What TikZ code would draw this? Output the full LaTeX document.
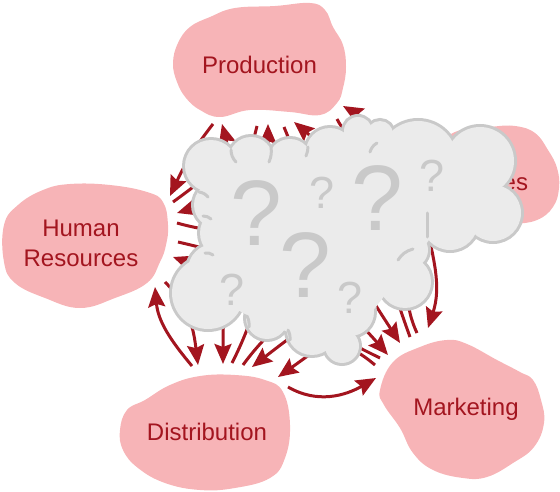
\documentclass[tikz,border=0pt]{standalone}
\usepackage{fontspec}
\setmainfont{Liberation Sans}
\usetikzlibrary{arrows.meta}

\definecolor{deptpink}{HTML}{F7B4B7}
\definecolor{deptred}{HTML}{A3151F}
\definecolor{fogfill}{HTML}{EBEBEB}
\definecolor{fogline}{HTML}{C9C9C9}

\tikzset{
  dept/.style={text=deptred,font=\fontsize{24}{30}\selectfont,inner sep=0pt},
  link/.style={deptred,line width=3pt,-{Stealth[length=20pt,width=17pt,inset=3pt]}},
  curl/.style={fogline,line width=3pt,line cap=round},
  bigq/.style={text=fogline,font=\fontsize{93}{93}\selectfont,inner sep=0pt,anchor=base},
  smallq/.style={bigq,font=\fontsize{45}{45}\selectfont},
}

\begin{document}
\begin{tikzpicture}[x=1pt,y=1pt]
\useasboundingbox (0,0) rectangle (560,-492);

% department blobs
\fill[deptpink] plot[smooth cycle,tension=0.7] coordinates {(173,-63) (178,-43) (190,-27) (210,-17) (235,-8) (275,-6) (310,-3) (325,-10) (333,-27) (343,-45) (346,-67) (343,-88) (337,-103) (320,-115) (290,-112) (250,-110) (220,-117) (200,-110) (186,-98) (177,-82)};
\fill[deptpink] plot[smooth cycle,tension=0.7] coordinates {(440,-150) (455,-132) (490,-127) (515,-126) (535,-133) (548,-150) (557,-168) (559,-188) (553,-207) (537,-220) (512,-224) (480,-224) (450,-215) (438,-185)};
\fill[deptpink] plot[smooth cycle,tension=0.7] coordinates {(4,-225) (18,-205) (43,-190) (70,-184) (110,-185) (147,-192) (163,-202) (168,-225) (166,-245) (160,-262) (147,-283) (115,-298) (80,-308) (45,-298) (15,-283) (4,-262)};
\fill[deptpink] plot[smooth cycle,tension=0.7] coordinates {(120,-430) (127,-410) (145,-400) (170,-385) (200,-376) (235,-375) (265,-380) (283,-392) (290,-425) (285,-458) (270,-478) (235,-488) (200,-490) (165,-483) (138,-468) (123,-450)};
\fill[deptpink] plot[smooth cycle,tension=0.7] coordinates {(380,-390) (393,-362) (420,-347) (447,-340) (467,-344) (497,-360) (520,-372) (533,-380) (541,-400) (544,-423) (534,-447) (513,-463) (487,-477) (463,-478) (433,-470) (413,-453) (400,-428) (384,-405)};

\node[dept,anchor=base] (prod) at (259.5,-74) {Production};
\node[dept,anchor=base] (sales) at (498,-190) {Sales};
\node[dept,align=center] (hr) at (81,-243) {Human\\Resources};
\node[dept,anchor=base] (dist) at (207,-440) {Distribution};
\node[dept,anchor=base] (mkt) at (466,-415) {Marketing};

% arrow ends round each department
\foreach \n/\x/\y in {p1/213/124, p2/222/124, p3/257/126, p4/268/124,
    p5/284/127, p6/294/122, p7/337/119, p8/343/106,
    h1/170/196, h2/173/202, h3/177/213, h4/177/223,
    h5/178/242, h6/173/257, h7/165/282, h8/155/287,
    d1/192/366, d2/198/365, d3/223/364, d4/232/363,
    d5/243/365, d6/252/367, d7/278/377, d8/288/387,
    m1/376/378, m2/375/365, m3/380/358, m4/388/355,
    m5/400/343, m6/410/337, m7/417/333, m8/428/328,
    s1/440/175, s2/440/175, s3/445/190, s4/440/200,
    s5/448/226, s6/440/212, s7/424/216, s8/418/228}
  \coordinate (\n) at (\x,-\y);

% everybody talks to everybody
\draw[link] (p1) to[out=232,in=65] (h1);
\draw[link] (h2) to[out=36,in=285] (p2);
\draw[link] (p3) to[out=256,in=90] (d3);
\draw[link] (d4) to[out=63,in=270] (p4);
\draw[link] (p5) to[out=292,in=123] (m5);
\draw[link] (m6) to[out=110,in=320] (p6);
\draw[link] (p7) to[out=297,in=150] (s2);
\draw[link] (s1) to[out=160,in=330] (p8);
\draw[link] (h4) to[out=344,in=180] (s4);
\draw[link] (s3) to[out=185,in=17] (h3);
\draw[link] (h5) to[out=347,in=131] (m4);
\draw[link] (m3) to[out=154,in=340] (h6);
\draw[link] (h7) to[out=315,in=97] (d2);
\draw[link] (d1) to[out=130,in=275] (h8);
\draw[link] (d5) to[out=54,in=225] (s6);
\draw[link] (s5) to[out=216,in=38] (d6);
\draw[link] (d8) to[out=-30,in=210] (m1);
\draw[link] (m2) to[out=140,in=35,looseness=1.4] (d7);
\draw[link] (m7) to[out=115,in=260] (s8);
\draw[link] (s7) to[out=283,in=72] (m8);

% the fog: lobes stroked thick, then filled over
\def\lobes{211/166/26, 251/159/22, 290/161/22, 330/152/24, 358/131/14,
  380/134/13, 418/160/39, 480/161/34, 493/213/28, 450/222/28, 410/250/18,
  405/282/26, 350/312/24, 342/346/17, 312/330/25, 267/318/21, 208/293/36,
  214/270/26, 226/233/26, 217/205/23}
\foreach \x/\y/\rad in \lobes
  \draw[fogline,line width=6pt] (\x,-\y) circle (\rad);
\fill[fogfill] (203,-192) -- (233,-152) -- (270,-152) -- (307,-155) -- (348,-132)
  -- (372,-130) -- (385,-148) -- (453,-148) -- (503,-188) -- (476,-228)
  -- (432,-236) -- (420,-252) -- (385,-295) -- (352,-338) -- (327,-346)
  -- (288,-332) -- (247,-315) -- (197,-288) -- (207,-255) -- (205,-218)
  -- (200,-196) -- cycle;
\foreach \x/\y/\rad in \lobes
  \fill[fogfill] (\x,-\y) circle (\rad);

% little curls where the lobes meet
\draw[curl] (231,-150) to[bend right=20] (236,-162);
\draw[curl] (271,-147) to[bend left=15] (269,-162);
\draw[curl] (308,-147) to[bend left=10] (306,-156);
\draw[curl] (377,-143) to[bend right=20] (370,-152);
\draw[curl] (427,-213) -- (427,-237);
\draw[curl] (398,-260) to[bend left=20] (413,-249);
\draw[curl] (247,-316) to[bend left=15] (249,-327);
\draw[curl] (288,-330) to[bend left=15] (290,-340);
\draw[curl] (199,-192) to[bend left=20] (208,-197);
\draw[curl] (203,-216) to[bend left=20] (211,-219);
\draw[curl] (205,-253) to[bend left=20] (213,-255);

\node[bigq] (q1) at (256,-245) {?};
\node[bigq] (q2) at (377,-230) {?};
\node[bigq] (q3) at (305,-297) {?};
\node[smallq] (q4) at (322,-208) {?};
\node[smallq] (q5) at (432,-192) {?};
\node[smallq] (q6) at (232,-305) {?};
\node[smallq] (q7) at (350,-313) {?};
\end{tikzpicture}
\end{document}
